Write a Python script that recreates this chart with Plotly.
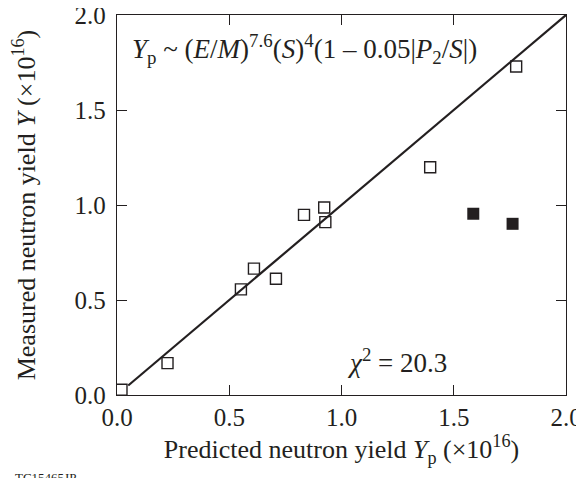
import plotly.graph_objects as go

# Open squares (measured vs predicted), units of 1e16
open_x = [0.02, 0.225, 0.552, 0.61, 0.708, 0.833, 0.923, 0.928, 1.395, 1.778]
open_y = [0.028, 0.168, 0.556, 0.665, 0.612, 0.948, 0.987, 0.91, 1.199, 1.729]
# Filled squares
filled_x = [1.587, 1.762]
filled_y = [0.954, 0.901]
# Y = Yp reference line
line_x = [0.05, 2.0]
line_y = [0.05, 2.0]

x_ticks = [0.0, 0.5, 1.0, 1.5, 2.0]
y_ticks = [0.0, 0.5, 1.0, 1.5, 2.0]

FONT = "Liberation Serif"
INK = "#231f20"
FS = 25

fig = go.Figure()
fig.add_trace(go.Scatter(x=line_x, y=line_y, mode="lines",
                         line=dict(color=INK, width=2.2), showlegend=False))
fig.add_trace(go.Scatter(x=open_x, y=open_y, mode="markers",
                         marker=dict(symbol="square-open", size=11,
                                     color=INK, line=dict(width=1.4, color=INK)),
                         showlegend=False))
fig.add_trace(go.Scatter(x=filled_x, y=filled_y, mode="markers",
                         marker=dict(symbol="square", size=12, color=INK,
                                     line=dict(width=0)),
                         showlegend=False))

axis_common = dict(range=[0, 2], showgrid=False, zeroline=False, automargin=False,
                   showline=True, linecolor=INK, linewidth=1.4, mirror="ticks",
                   ticks="inside", ticklen=10, tickwidth=1.3, tickcolor=INK,
                   ticklabeloverflow="allow",
                   tickformat=".1f", tickfont=dict(family=FONT, size=FS, color=INK))

# page body adds an 8 px offset; figure sized/margined so the plot box lands at
# x 117..566, y 15..395 in the 584x478 window
fig.update_layout(
    width=576, height=470,
    margin=dict(l=109, r=18, t=7, b=83),
    plot_bgcolor="white", paper_bgcolor="white",
    font=dict(family=FONT, color=INK),
    xaxis=dict(**axis_common, tickvals=x_ticks, ticklabelstandoff=0,
               title=dict(text="Predicted neutron yield <i>Y</i><sub>p</sub> (×10<sup>16</sup>)",
                          font=dict(family=FONT, size=26, color=INK), standoff=2)),
    yaxis=dict(**axis_common, tickvals=y_ticks, ticklabelstandoff=5,
               title=dict(text="Measured neutron yield <i>Y</i> (×10<sup>16</sup>)",
                          font=dict(family=FONT, size=26, color=INK), standoff=36)),
)

fig.add_annotation(
    x=0.058, y=1.82, xref="x", yref="y", xanchor="left", yanchor="middle",
    text="<i>Y</i><sub>p</sub> ~ (<i>E</i>/<i>M</i>)<sup>7.6</sup>(<i>S</i>)<sup>4</sup>(1 – 0.05|<i>P</i><sub>2</sub>/<i>S</i>|)",
    showarrow=False, font=dict(family=FONT, size=27, color=INK))
fig.add_annotation(
    x=1.016, y=0.18, xref="x", yref="y", xanchor="left", yanchor="middle",
    text="<i>χ</i><sup>2</sup> = 20.3",
    showarrow=False, font=dict(family=FONT, size=27, color=INK))
fig.add_annotation(
    x=0.0, y=0.0, xref="paper", yref="paper", xanchor="left", yanchor="top",
    xshift=-104, yshift=-73,
    text="TC15465JP", showarrow=False, font=dict(family=FONT, size=13, color=INK))

fig.write_html("out.html")
